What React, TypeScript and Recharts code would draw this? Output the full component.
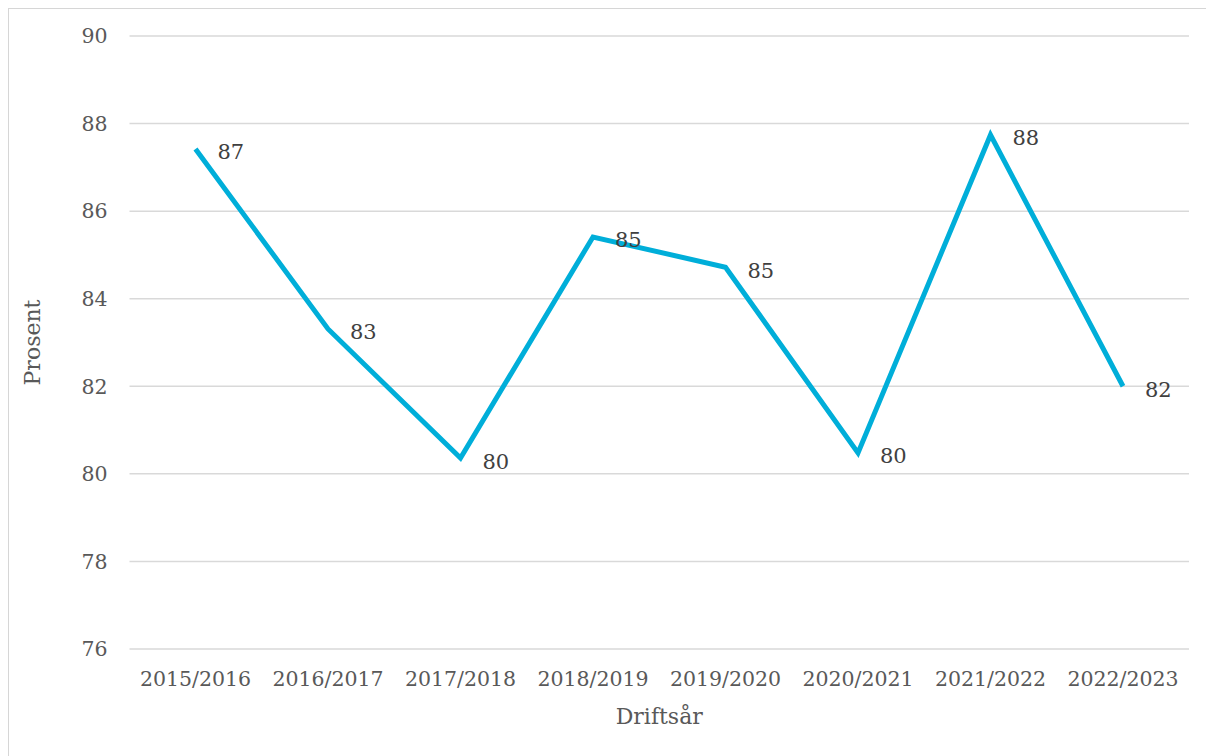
import React from 'react';
import { LineChart, Line, XAxis, YAxis, CartesianGrid, Label, LabelList } from 'recharts';

// Driftsår og andel (prosent), lest av figuren
const years: string[] = [
  '2015/2016',
  '2016/2017',
  '2017/2018',
  '2018/2019',
  '2019/2020',
  '2020/2021',
  '2021/2022',
  '2022/2023',
];
const percent: number[] = [87.42, 83.31, 80.36, 85.41, 84.72, 80.48, 87.74, 82.0];
const yTicks: number[] = [76, 78, 80, 82, 84, 86, 88, 90];

const data = years.map((year, i) => ({ year, value: percent[i] }));

const FONT = '"DejaVu Serif", Georgia, serif';

const App = () => {
  return (
    // the chart frame runs past the page on the right and bottom, as in the source
    <div
      style={{
        width: 1206,
        height: 748,
        borderTop: '1.5px solid #d6d6d6',
        borderLeft: '1.5px solid #d6d6d6',
        boxSizing: 'border-box',
        background: '#fff',
        overflow: 'hidden',
      }}
    >
      <LineChart
        width={1205}
        height={748}
        data={data}
        style={{ marginTop: -1.5 }}
        margin={{ top: 28, right: 25, left: 0, bottom: 32 }}
      >
        <CartesianGrid vertical={false} stroke="#d9d9d9" strokeWidth={1.5} />
        <XAxis
          dataKey="year"
          height={75}
          axisLine={false}
          tickLine={false}
          tickMargin={16}
          padding={{ left: 66, right: 66 }}
          tick={{ fill: '#595959', fontSize: 20.5, fontFamily: FONT }}
          interval={0}
        >
          <Label
            value="Driftsår"
            position="insideBottom"
            offset={0}
            style={{ fill: '#595959', fontSize: 22, fontFamily: FONT }}
          />
        </XAxis>
        <YAxis
          width={120.5}
          domain={[76, 90]}
          ticks={yTicks}
          axisLine={false}
          tickLine={false}
          tickMargin={16}
          tick={{ fill: '#595959', fontSize: 20.5, fontFamily: FONT }}
        >
          <Label
            value="Prosent"
            angle={-90}
            position="insideLeft"
            offset={23}
            style={{ textAnchor: 'middle', fill: '#595959', fontSize: 22, fontFamily: FONT }}
          />
        </YAxis>
        <Line
          type="linear"
          dataKey="value"
          stroke="#00aed9"
          strokeWidth={5}
          dot={false}
          isAnimationActive={false}
        >
          <LabelList
            dataKey="value"
            position="right"
            offset={22}
            dy={3}
            formatter={(v: number) => Math.round(v)}
            style={{ fill: '#404040', fontSize: 21, fontFamily: FONT }}
          />
        </Line>
      </LineChart>
    </div>
  );
};

export default App;
